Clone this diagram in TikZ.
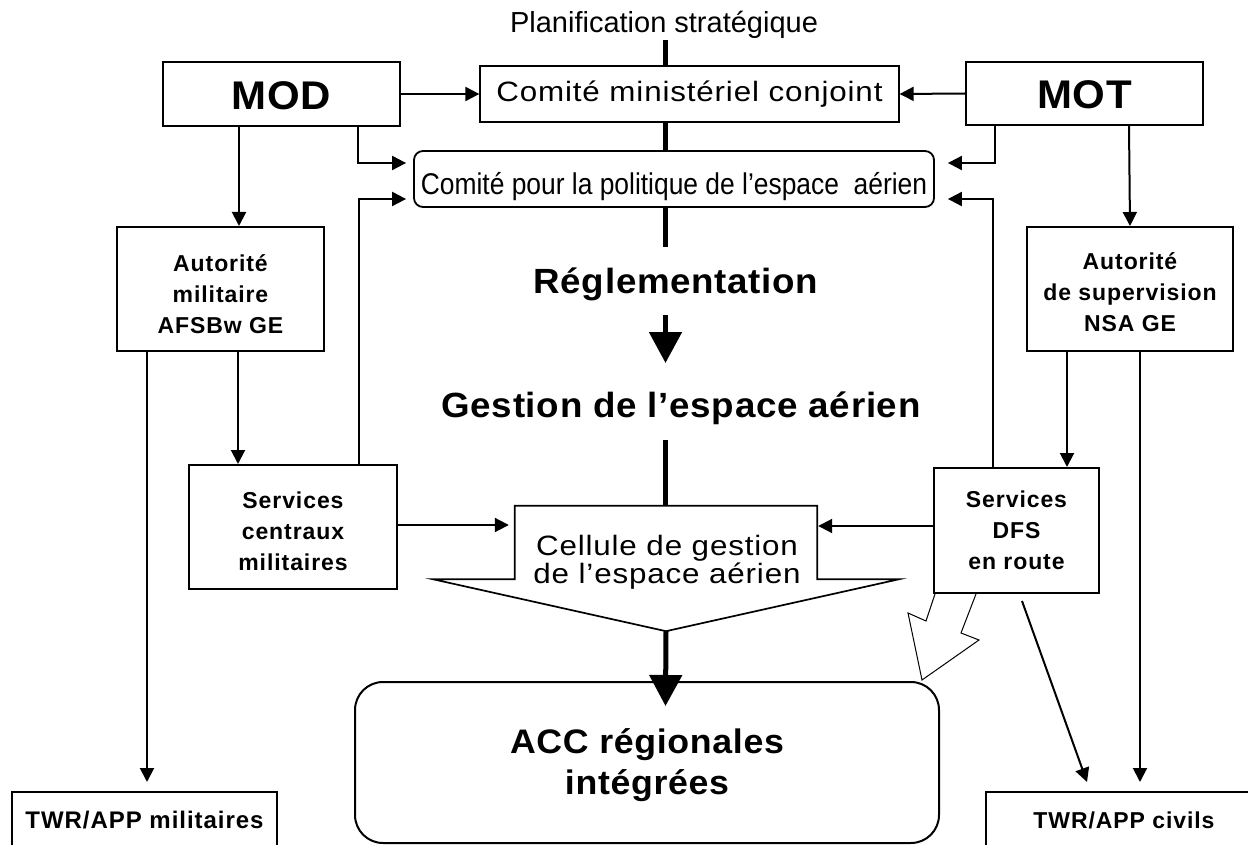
\documentclass[tikz,border=0pt]{standalone}
\usepackage{fontspec}
\setmainfont{Liberation Sans}
\newfontfamily\regsp[FakeStretch=1.12, LetterSpace=3]{Liberation Sans}
\newfontfamily\boldsp[FakeStretch=1.05, LetterSpace=2]{Liberation Sans}
\newfontfamily\boldspn[LetterSpace=4]{Liberation Sans}
\newfontfamily\narrowf[FakeStretch=0.88]{Liberation Sans}
\usetikzlibrary{arrows.meta,calc}
\newcommand\fsz[2]{\fontsize{#1}{#2}\selectfont}

\begin{document}
\begin{tikzpicture}[x=1pt,y=-1pt,
  txt/.style={inner sep=0pt},
  box/.style={draw, line width=2pt, rectangle, inner sep=0pt},
  bfont/.style={font=\boldspn\bfseries\fsz{23}{31}, align=center},
  arr/.style={line width=2pt, -{Triangle[length=14pt,width=14pt]}},
  spine/.style={line width=5pt},
  bigarr/.style={line width=5pt, -{Triangle[length=31pt,width=32pt]}},
]
\useasboundingbox (0,0) rectangle (1248,845);
\clip (0,0) rectangle (1248,845);
\fill[white] (0,0) rectangle (1248,845);

\coordinate (axis) at (665.5,0);

% top title and committees
\node[txt, font=\fsz{29}{34}, anchor=base] (plan) at (664,33) {Planification stratégique};
\node[box, minimum width=237pt, minimum height=64pt, font=\boldsp\bfseries\fsz{40}{48},
      text height=32pt, text depth=0pt] (mod) at (281.5,94) {MOD};
\node[box, minimum width=237pt, minimum height=63pt, font=\boldsp\bfseries\fsz{40}{48},
      text height=31pt, text depth=0pt] (mot) at (1084.5,93.5) {MOT};
\node[box, line width=1.3pt, minimum width=419pt, minimum height=56pt, font=\regsp\fsz{28}{34},
      text height=22pt, text depth=6pt] (com) at (689.5,94) {Comité ministériel conjoint};
\node[box, rounded corners=9pt, line width=1.8pt, minimum width=520pt, minimum height=56pt,
      font=\narrowf\fsz{30}{36}, text height=32pt, text depth=0pt] (pol) at (674,179)
      {Comité pour la politique de l’espace~~aérien};

% central headings
\node[txt, font=\boldsp\bfseries\fsz{35}{40}, anchor=base] (regl) at (676,293) {Réglementation};
\node[txt, font=\boldsp\bfseries\fsz{35}{40}, anchor=base] (gest) at (681,417) {Gestion de l’espace aérien};

% authorities and services
\node[box, bfont, minimum width=207pt, minimum height=124pt] (am) at (220.5,289)
      {\rule{0pt}{28pt}Autorité\\militaire\\AFSBw GE};
\node[box, bfont, minimum width=206pt, minimum height=124pt] (as) at (1130,289)
      {\rule{0pt}{24pt}Autorité\\de supervision\\NSA GE};
\node[box, bfont, minimum width=208pt, minimum height=124pt] (sc) at (293,527)
      {\rule{0pt}{26pt}Services\\centraux\\militaires};
\node[box, bfont, minimum width=165pt, minimum height=125pt] (dfs) at (1016.5,530.5)
      {\rule{0pt}{17pt}Services\\DFS\\en route};

% airspace management cell (block arrow)
\node[minimum width=302pt, minimum height=73pt, inner sep=0pt] (cell) at (666,542.5) {};
\coordinate (cellpt) at ($(cell.south)+(0,52)$);
\draw[line width=1.7pt, line join=miter]
  (cell.south west) -- (cell.north west) -- (cell.north east) -- (cell.south east)
  -- ($(cell.south east)+(82,0)$) -- (cellpt) -- ($(cell.south west)+(-82,0)$) -- cycle;
\node[txt, font=\regsp\fsz{28}{28}, align=center] (celltxt) at (667,562)
      {Cellule de gestion\\de l’espace aérien};

% integrated ACCs and towers
\node[box, rounded corners=28pt, minimum width=584pt, minimum height=161pt,
      font=\boldsp\bfseries\fsz{34}{41}, align=center] (acc) at (647,762.5)
      {\rule{0pt}{31pt}ACC régionales\\intégrées};
\node[box, minimum width=265pt, minimum height=74pt, font=\boldspn\bfseries\fsz{24}{30},
      text height=17pt, text depth=19pt] (twm) at (144.5,829) {TWR/APP militaires};
\node[box, minimum width=276pt, minimum height=74pt, font=\boldspn\bfseries\fsz{23}{30},
      text height=17pt, text depth=19pt] (twc) at (1124,829) {TWR/APP civils};

% central spine
\draw[spine] ($(axis |- plan.base)+(0,7)$) -- (axis |- com.north);
\draw[spine] (axis |- com.south) -- (axis |- pol.north);
\draw[spine] (axis |- pol.south) -- ($(axis |- regl.base)+(0,-46)$);
\draw[bigarr] ($(axis |- regl.base)+(0,22)$) -- ($(axis |- gest.base)+(0,-54)$);
\draw[spine] ($(axis |- gest.base)+(0,23)$) -- (axis |- cell.north);
\draw[bigarr] (cellpt) -- ($(axis |- acc.north)+(0,25)$);

% ministries to committees
\draw[arr] (mod.east) -- (com.west);
\draw[arr] (mot.west) -- (com.east);
\draw[arr] ($(mod.south east)+(-43,0)$) |- ($(pol.west)+(-7,-16)$);
\draw[arr] ($(sc.north east)+(-39,0)$) |- ($(pol.west)+(-7,20)$);
\draw[arr] ($(mot.south west)+(30,0)$) |- ($(pol.east)+(13,-16)$);
\draw[arr] ($(dfs.north west)+(60,0)$) |- ($(pol.east)+(13,20)$);

% military branch
\draw[arr] ($(mod.south west)+(77,0)$) -- ($(am.north west)+(123,0)$);
\draw[arr] ($(am.south west)+(122,0)$) -- ($(sc.north west)+(50,0)$);
\draw[arr] ($(am.south west)+(31,0)$) -- ($(twm.north west)+(136,-9)$);

% civil branch
\draw[arr] ($(mot.south west)+(164,0)$) -- (as.north);
\draw[arr] ($(as.south west)+(41,0)$) -- ($(dfs.north west)+(134,0)$);
\draw[arr] ($(as.south west)+(114,0)$) -- ($(twc.north west)+(155,-9)$);
\draw[arr] ($(dfs.south)+(5.5,7)$) -- ($(twc.north west)+(102,-9)$);

% services into the cell
\draw[arr] ($(sc.east)+(0,-2)$) -- ($(cell.west |- sc.east)+(-6,-2)$);
\draw[arr] ($(dfs.west)+(0,-4.5)$) -- ($(cell.east |- dfs.west)+(1,-4.5)$);

% hollow block arrow from DFS towards the ACCs
\draw[line width=1pt, fill=white, line join=miter]
  ($(dfs.south west)+(2,0)$) -- ++(-9,27) -- ++(-18,-8) -- ++(14,67)
  -- ++(57,-40) -- ++(-18,-7) -- ($(dfs.south west)+(43,0)$);
\end{tikzpicture}
\end{document}
